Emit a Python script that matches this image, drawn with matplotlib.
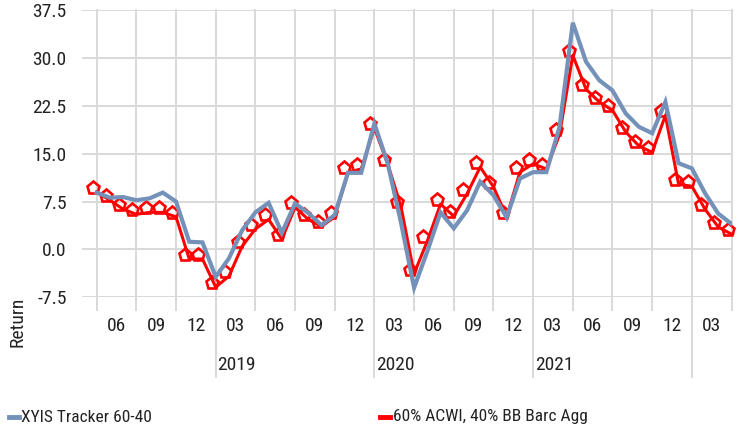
import numpy as np
import matplotlib
matplotlib.use("Agg")
import matplotlib.pyplot as plt
import matplotlib.transforms as mtransforms
from matplotlib.lines import Line2D
from matplotlib import font_manager

# font: narrow sans if we have it, else Arial-like
names = set(f.name for f in font_manager.fontManager.ttflist)
narrow = [n for n in ['Liberation Sans Narrow', 'Arial Narrow', 'Roboto Condensed'] if n in names]
if narrow:
    plt.rcParams['font.family'] = [narrow[0], 'DejaVu Sans']
    fs, lfs = 14, 12.5
else:
    plt.rcParams['font.family'] = ['Liberation Sans', 'DejaVu Sans']
    fs, lfs = 13, 12

# monthly 12m returns, 2018-03 .. 2022-03
tracker = [8.9, 8.1, 8.2, 7.7, 8.0, 8.9, 7.5, 1.2, 1.1, -4.3, -1.4,
           3.0, 5.8, 7.3, 2.6, 7.2, 5.7, 3.8, 5.4, 12.0, 12.0,
           19.7, 13.5, 4.3, -6.0, -0.3, 5.8, 3.3, 6.1, 10.6, 8.5,
           5.0, 11.1, 12.1, 12.1, 19.2, 35.5, 29.4, 26.5, 24.9, 21.3,
           19.2, 18.2, 23.1, 13.5, 12.7, 8.8, 5.6, 4.0]
bench = [9.0, 7.7, 6.3, 5.5, 5.8, 5.8, 5.1, -1.5, -1.5, -5.9, -4.2,
         0.5, 3.2, 4.7, 1.6, 6.6, 4.7, 3.6, 5.1, 12.1, 12.6,
         19.0, 13.4, 6.8, -3.8, 1.3, 7.1, 5.2, 8.7, 12.9, 9.8,
         5.1, 12.1, 13.4, 12.6, 18.0, 30.4, 25.1, 23.1, 21.8, 18.4,
         16.2, 15.2, 21.0, 10.2, 9.9, 6.3, 3.5, 2.4]
quarter_labels = ["06", "09", "12", "03"] * 4
years = ["2019", "2020", "2021"]
year_starts = [9, 21, 33]   # month index of the year boundary
yticks = [-7.5, 0.0, 7.5, 15.0, 22.5, 30.0, 37.5]

blue = '#7491B9'
red = '#FF0000'
grid_c = '#D9D9D9'
txt_c = '#222222'

fig = plt.figure(figsize=(7.38, 4.32), dpi=100)
ax = fig.add_axes([82/738, 1-297.3/432, (731.5-82)/738, 287.3/432])

x = np.arange(len(tracker))
ax.plot(x, bench, color=red, lw=2.2, zorder=3)
moff = mtransforms.offset_copy(ax.transData, fig=fig, x=-4, y=4, units='dots')
ax.plot(x, bench, ls='none', marker='p', ms=9.5, mfc='none', mec=red, mew=1.9,
        transform=moff, zorder=4, clip_on=False)
ax.plot(x, tracker, color=blue, lw=3.0, zorder=5, solid_joinstyle='miter')

ax.set_xlim(-1.11, 48)
ax.set_ylim(-7.5, 37.5)

# horizontal grid
ax.set_yticks(yticks)
ax.set_yticklabels(["%.1f" % v for v in yticks])
ax.yaxis.grid(True, color=grid_c, lw=1.4)
ax.tick_params(axis='y', length=0, pad=11, labelsize=fs, labelcolor=txt_c)

# vertical quarter lines, longer at year boundaries
for q in range(0, 49, 3):
    lo = -0.277 if (q - 9) % 12 == 0 else -0.044
    ax.axvline(q, ymin=lo, ymax=1, color=grid_c, lw=1.4, clip_on=False, zorder=1)

ax.set_xticks([])
ax.set_xticks(np.arange(1.5, 48, 3), minor=True)
ax.set_xticklabels(quarter_labels, minor=True)
ax.tick_params(axis='x', which='minor', length=0, pad=14, labelsize=fs, labelcolor=txt_c)

trans = mtransforms.blended_transform_factory(ax.transData, ax.transAxes)
for yr, s in zip(years, year_starts):
    ax.text(s + 0.12, -0.234, yr, transform=trans, ha='left', va='center',
            fontsize=fs, color=txt_c)

for sp in ax.spines.values():
    sp.set_visible(False)
ax.set_axisbelow(True)

fig.text(18/738, 1-322/432, "Return", rotation=90, ha='center', va='center',
         fontsize=fs, color=txt_c)

# legend
ly = 1 - 417/432
fig.add_artist(Line2D([8.5/738, 19/738], [ly, ly], color=blue, lw=3.5))
fig.text(21/738, ly, "XYIS Tracker 60-40", ha='left', va='center', fontsize=lfs, color=txt_c)
fig.add_artist(Line2D([380/738, 390/738], [ly, ly], color=red, lw=3.5))
fig.text(393/738, ly, "60% ACWI, 40% BB Barc Agg", ha='left', va='center', fontsize=lfs, color=txt_c)

fig.savefig("out.png", dpi=100)
